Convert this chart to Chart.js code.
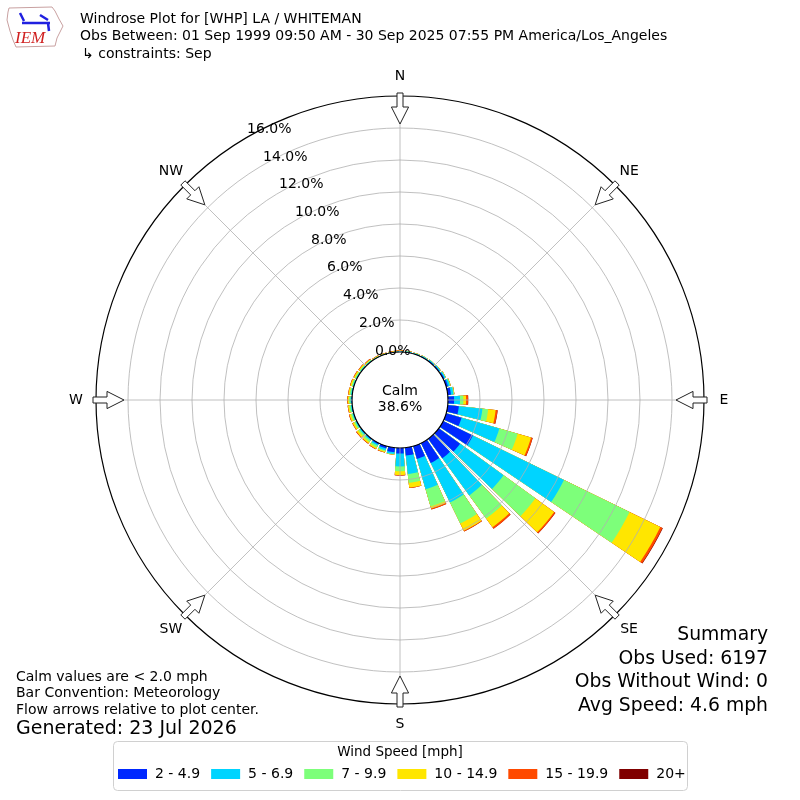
<!DOCTYPE html>
<html>
<head>
<meta charset="utf-8">
<script src="https://cdn.jsdelivr.net/npm/chart.js@4.4.1/dist/chart.umd.min.js"></script>
<style>
  html, body { margin: 0; padding: 0; background: #fff; }
  #wrap { width: 800px; height: 800px; position: relative; }
</style>
</head>
<body>
<div id="wrap"><canvas id="rose"></canvas></div>
<script>
/* ================= Data ================= */

// direction bins (degrees, bin centre, meteorological "from")
const directions = [0, 10, 20, 30, 40, 50, 60, 70, 80, 90, 100, 110, 120, 130, 140, 150, 160, 170,
  180, 190, 200, 210, 220, 230, 240, 250, 260, 270, 280, 290, 300, 310, 320, 330, 340, 350];

const speedLabels = ["2 - 4.9", "5 - 6.9", "7 - 9.9", "10 - 14.9", "15 - 19.9", "20+"];
const speedColors = ["#0028ff", "#00d4ff", "#7dff7a", "#ffe600", "#ff4a00", "#800000"];

// frequency (%) of each speed band per direction
const bin2to5 = [0.02, 0.03, 0.03, 0.04, 0.05, 0.06, 0.08, 0.12, 0.20, 0.38, 0.70, 1.00, 2.07, 1.64, 1.50, 1.38, 0.83, 0.49,
  0.35, 0.28, 0.15, 0.08, 0.05, 0.04, 0.03, 0.03, 0.03, 0.03, 0.03, 0.02, 0.02, 0.02, 0.02, 0.01, 0.01, 0.01];
const bin5to7 = [0.02, 0.03, 0.03, 0.04, 0.05, 0.06, 0.08, 0.12, 0.15, 0.37, 1.48, 2.46, 6.33, 3.36, 2.87, 2.74, 1.97, 1.16,
  0.80, 0.12, 0.12, 0.10, 0.08, 0.07, 0.06, 0.06, 0.06, 0.06, 0.05, 0.05, 0.04, 0.04, 0.03, 0.02, 0.02, 0.02];
const bin7to10 = [0.02, 0.02, 0.02, 0.02, 0.02, 0.02, 0.03, 0.04, 0.04, 0.21, 0.36, 1.19, 4.56, 2.46, 1.79, 1.47, 1.12, 0.55,
  0.30, 0.03, 0.08, 0.12, 0.12, 0.12, 0.10, 0.10, 0.10, 0.10, 0.08, 0.08, 0.07, 0.06, 0.05, 0.03, 0.02, 0.02];
const bin10to15 = [0.03, 0.02, 0.01, 0.01, 0.01, 0.01, 0.01, 0.02, 0.02, 0.17, 0.47, 0.87, 2.14, 1.45, 0.67, 0.51, 0.13, 0.30,
  0.23, 0.01, 0.06, 0.10, 0.10, 0.12, 0.10, 0.10, 0.08, 0.08, 0.08, 0.08, 0.08, 0.07, 0.05, 0.03, 0.02, 0.02];
const bin15to20 = [0.02, 0.01, 0, 0, 0, 0, 0, 0, 0.01, 0.12, 0.12, 0.10, 0.15, 0.09, 0.12, 0.05, 0.07, 0.03,
  0.04, 0, 0.02, 0.03, 0.03, 0.04, 0.03, 0.03, 0.02, 0.03, 0.02, 0.03, 0.03, 0.03, 0.03, 0.02, 0.02, 0.02];
const bin20up = [0, 0, 0, 0, 0, 0, 0, 0, 0, 0.02, 0.01, 0.01, 0.03, 0.01, 0, 0, 0, 0,
  0, 0, 0, 0, 0, 0, 0, 0, 0, 0, 0, 0, 0, 0, 0, 0, 0, 0];

const ringTicks = [0, 2, 4, 6, 8, 10, 12, 14, 16];
const compassNames = ["N", "NE", "E", "SE", "S", "SW", "W", "NW"];
const calmPercent = 38.6;

const titleLines = [
  "Windrose Plot for [WHP] LA / WHITEMAN",
  "Obs Between: 01 Sep 1999 09:50 AM - 30 Sep 2025 07:55 PM America/Los_Angeles",
  "\u21b3 constraints: Sep",
];
const noteLines = ["Calm values are < 2.0 mph", "Bar Convention: Meteorology", "Flow arrows relative to plot center."];
const generatedText = "Generated: 23 Jul 2026";
const summaryLines = ["Summary", "Obs Used: 6197", "Obs Without Wind: 0", "Avg Speed: 4.6 mph"];

/* ================= Build stacked datasets ================= */

const bins = [bin2to5, bin5to7, bin7to10, bin10to15, bin15to20, bin20up];
// running totals: each band is drawn from the calm ring out to its cumulative value
const stacked = bins.map((_, k) =>
  directions.map((d, i) => bins.slice(0, k + 1).reduce((s, b) => s + b[i], 0))
);

const barAngle = 8; // degrees of each bar
const gapAngle = 2; // empty wedge between bars

const datasets = stacked.map((vals, k) => ({
  label: speedLabels[k],
  data: vals.flatMap((v) => [v, 0]),
  backgroundColor: vals.flatMap(() => [speedColors[k], "rgba(0,0,0,0)"]),
  angle: vals.flatMap(() => [barAngle, gapAngle]),
  borderWidth: 0,
}));

/* ================= Decorations ================= */

const FONT = "'DejaVu Sans', Verdana, sans-serif";

function polar(scale, deg, r) {
  const a = (deg * Math.PI) / 180;
  return [scale.xCenter + r * Math.sin(a), scale.yCenter - r * Math.cos(a)];
}

const roseDecor = {
  id: "roseDecor",
  afterDatasetsDraw(chart) {
    // calm circle
    const s = chart.scales.r;
    const ctx = chart.ctx;
    const rc = s.getDistanceFromCenterForValue(0);
    ctx.save();
    ctx.beginPath();
    ctx.arc(s.xCenter, s.yCenter, rc, 0, Math.PI * 2);
    ctx.fillStyle = "#fff";
    ctx.fill();
    ctx.lineWidth = 1.2;
    ctx.strokeStyle = "#000";
    ctx.stroke();
    ctx.restore();
  },
  afterDraw(chart) {
    const s = chart.scales.r;
    const ctx = chart.ctx;
    const rc = s.getDistanceFromCenterForValue(0);
    const rOut = s.drawingArea;
    ctx.save();

    // spokes every 45 degrees
    ctx.strokeStyle = "#b0b0b0";
    ctx.lineWidth = 0.8;
    for (let d = 0; d < 360; d += 45) {
      const [x1, y1] = polar(s, d, rc);
      const [x2, y2] = polar(s, d, rOut);
      ctx.beginPath();
      ctx.moveTo(x1, y1);
      ctx.lineTo(x2, y2);
      ctx.stroke();
    }

    // outer ring
    ctx.beginPath();
    ctx.arc(s.xCenter, s.yCenter, rOut, 0, Math.PI * 2);
    ctx.strokeStyle = "#000";
    ctx.lineWidth = 1.2;
    ctx.stroke();

    // flow arrows, pointing at the centre
    compassNames.forEach((name, i) => {
      const d = i * 45;
      const pts = [[307, -3], [293, -3], [293, -8.6], [276, 0], [293, 8.6], [293, 3], [307, 3]];
      const a = (d * Math.PI) / 180;
      ctx.beginPath();
      pts.forEach(([r, w], j) => {
        const x = s.xCenter + r * Math.sin(a) + w * Math.cos(a);
        const y = s.yCenter - r * Math.cos(a) + w * Math.sin(a);
        if (j === 0) ctx.moveTo(x, y);
        else ctx.lineTo(x, y);
      });
      ctx.closePath();
      ctx.fillStyle = "#fff";
      ctx.fill();
      ctx.strokeStyle = "#222";
      ctx.lineWidth = 1;
      ctx.stroke();

      const [tx, ty] = polar(s, d, 324);
      ctx.fillStyle = "#000";
      ctx.font = "14px " + FONT;
      ctx.textAlign = "center";
      ctx.textBaseline = "middle";
      ctx.fillText(name, tx, ty);
    });

    // radial tick labels along the 330 degree line
    ctx.font = "14px " + FONT;
    ctx.textAlign = "left";
    ctx.textBaseline = "middle";
    ctx.fillStyle = "#000";
    ringTicks.forEach((v) => {
      const [x, y] = polar(s, -30, s.getDistanceFromCenterForValue(v));
      ctx.fillText(v.toFixed(1) + "%", x - 1, y - 7.5);
    });

    // calm text
    ctx.textAlign = "center";
    ctx.fillText("Calm", s.xCenter, s.yCenter - 9);
    ctx.fillText(calmPercent.toFixed(1) + "%", s.xCenter, s.yCenter + 7);

    // header
    ctx.textAlign = "left";
    titleLines.forEach((t, i) => {
      ctx.fillText(t, i === 2 ? 82 : 80, 19 + i * 17.5);
    });

    // logo
    ctx.beginPath();
    [[9, 8], [52, 7], [55, 11], [59, 19], [63, 26], [60, 32], [57, 38], [55, 46], [16, 47], [13, 40], [10, 31], [7, 20], [8, 12]]
      .forEach(([x, y], j) => (j ? ctx.lineTo(x, y) : ctx.moveTo(x, y)));
    ctx.closePath();
    ctx.strokeStyle = "#c8a0a0";
    ctx.lineWidth = 1;
    ctx.stroke();
    ctx.strokeStyle = "#2020e0";
    ctx.lineWidth = 2.5;
    ctx.beginPath();
    ctx.moveTo(22, 23);
    ctx.lineTo(50, 23);
    ctx.moveTo(20, 13);
    ctx.lineTo(24, 21);
    ctx.moveTo(40, 15);
    ctx.lineTo(48, 20);
    ctx.moveTo(48, 23);
    ctx.lineTo(49, 31);
    ctx.stroke();
    ctx.font = "italic 17px 'Liberation Serif', serif";
    ctx.fillStyle = "#d02020";
    ctx.fillText("IEM", 15, 39);

    // notes bottom left
    ctx.fillStyle = "#000";
    ctx.font = "14px " + FONT;
    noteLines.forEach((t, i) => ctx.fillText(t, 16, 677 + i * 16.5));
    ctx.font = "19px " + FONT;
    ctx.fillText(generatedText, 16, 729);

    // summary bottom right
    ctx.textAlign = "right";
    ctx.font = "18.8px " + FONT;
    summaryLines.forEach((t, i) => ctx.fillText(t, 768, 635 + i * 23.7));

    // legend
    const lx = 113, ly = 741, lw = 574, lh = 49;
    ctx.beginPath();
    ctx.roundRect(lx + 0.5, ly + 0.5, lw, lh, 4);
    ctx.fillStyle = "rgba(255,255,255,0.8)";
    ctx.fill();
    ctx.strokeStyle = "#d0d0d0";
    ctx.lineWidth = 1;
    ctx.stroke();
    ctx.fillStyle = "#000";
    ctx.font = "13.5px " + FONT;
    ctx.textAlign = "center";
    ctx.fillText("Wind Speed [mph]", 400, 752);
    ctx.textAlign = "left";
    ctx.font = "14px " + FONT;
    let x = 118;
    chart.data.datasets.forEach((ds, k) => {
      ctx.fillStyle = speedColors[k];
      ctx.fillRect(x, 769, 29, 10);
      ctx.fillStyle = "#000";
      ctx.fillText(ds.label, x + 37, 774);
      x += 37 + ctx.measureText(ds.label).width + 11;
    });

    ctx.restore();
  },
};

/* ================= Chart ================= */

const roseCtx = document.getElementById("rose");

new Chart(roseCtx, {
  type: "polarArea",
  data: {
    labels: directions.flatMap((d) => [d + "\u00b0", ""]),
    datasets: datasets,
  },
  options: {
    responsive: true,
    maintainAspectRatio: false,
    animation: false,
    layout: { padding: { left: 96, right: 96, top: 0, bottom: 0 } },
    plugins: {
      legend: { display: false },
      tooltip: { enabled: false },
    },
    scales: {
      r: {
        min: -3,
        max: 16,
        startAngle: -barAngle / 2,
        afterBuildTicks: (axis) => {
          axis.ticks = ringTicks.filter((v) => v > 0).map((v) => ({ value: v }));
        },
        ticks: { display: false },
        angleLines: { display: false },
        pointLabels: { display: false },
        grid: {
          z: 1,
          circular: true,
          color: (c) => (c.tick && c.tick.value === 16 ? "rgba(0,0,0,0)" : "#b0b0b0"),
          lineWidth: 0.8,
        },
      },
    },
  },
  plugins: [roseDecor],
});
</script>
</body>
</html>
